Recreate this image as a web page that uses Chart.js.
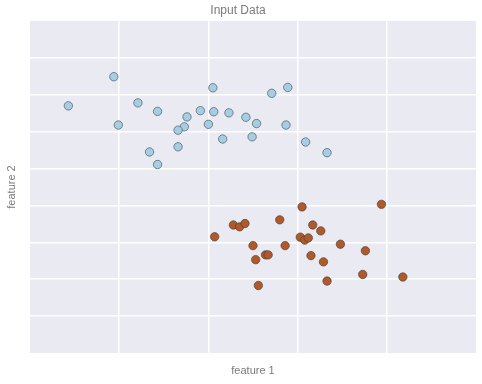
<!DOCTYPE html>
<html>
<head>
<meta charset="utf-8">
<script src="https://cdn.jsdelivr.net/npm/chart.js@4.4.1/dist/chart.umd.min.js"></script>
<style>
html,body{margin:0;padding:0;background:#fff;}
#wrap{width:482px;height:384px;}
</style>
</head>
<body>
<div id="wrap"><canvas id="c" width="482" height="384"></canvas></div>
<script>
const classA_x = [0.94,2.05,0.43,1.21,1.43,1.91,2.06,2.23,1.76,2.42,2.54,0.99,2.00,1.73,1.66,2.16,2.49,1.66,1.34,1.43,2.71,2.89,2.87,3.09,3.33];
const classA_y = [7.49,7.19,6.70,6.78,6.55,6.57,6.54,6.51,6.40,6.39,6.22,6.18,6.20,6.13,6.04,5.80,5.86,5.59,5.45,5.11,7.04,7.20,6.18,5.72,5.43];
const classB_x = [3.94,3.05,2.80,2.28,2.35,2.41,3.17,3.26,2.07,3.03,3.08,3.12,2.50,2.86,3.48,3.76,2.64,2.67,3.15,2.53,3.29,3.73,4.18,3.33,2.56];
const classB_y = [4.03,3.96,3.61,3.47,3.42,3.51,3.47,3.31,3.15,3.14,3.06,3.12,2.91,2.91,2.95,2.77,2.66,2.66,2.64,2.53,2.47,2.13,2.06,1.95,1.83];
const xTicks = [1,2,3,4];
const yTicks = [1,2,3,4,5,6,7,8];
const titleText = "Input Data";
const xLabel = "feature 1";
const yLabel = "feature 2";

const toPts = (xs, ys) => xs.map((x, i) => ({x: x, y: ys[i]}));

const bgPlugin = {
  id: 'bg',
  beforeDraw(chart) {
    const {ctx, chartArea: a} = chart;
    ctx.save();
    ctx.fillStyle = '#EAEAF2';
    ctx.fillRect(a.left, a.top, a.right - a.left, a.bottom - a.top);
    ctx.restore();
  }
};

const textColor = '#7a7a7a';
const font = {family: '"Liberation Sans", Arial, sans-serif', size: 11, weight: 'normal'};
const titleFont = {family: '"Liberation Sans", Arial, sans-serif', size: 12, weight: 'normal', lineHeight: 1.15};

new Chart(document.getElementById('c'), {
  type: 'scatter',
  data: {
    datasets: [
      {data: toPts(classA_x, classA_y), backgroundColor: '#a6cee3', borderColor: 'rgba(70,80,90,0.65)', borderWidth: 1, pointRadius: 4.2, pointHoverRadius: 4.2},
      {data: toPts(classB_x, classB_y), backgroundColor: '#b15928', borderColor: 'rgba(70,60,60,0.65)', borderWidth: 1, pointRadius: 4.2, pointHoverRadius: 4.2}
    ]
  },
  options: {
    responsive: false,
    animation: false,
    layout: {padding: {left: 0, right: 6, top: 0, bottom: 0}},
    plugins: {
      legend: {display: false},
      tooltip: {enabled: false},
      title: {display: true, text: titleText, color: textColor, font: titleFont, padding: {top: 4, bottom: 3.2}}
    },
    scales: {
      x: {
        type: 'linear', min: 0, max: 5,
        afterBuildTicks(s) { s.ticks = xTicks.map(v => ({value: v})); },
        afterFit(s) { s.height = 31; },
        ticks: {display: false},
        grid: {color: '#ffffff', lineWidth: 1.5, drawTicks: false},
        border: {display: false},
        title: {display: true, text: xLabel, color: textColor, font: font, padding: {top: 0, bottom: 6}}
      },
      y: {
        type: 'linear', min: 0, max: 9,
        afterBuildTicks(s) { s.ticks = yTicks.map(v => ({value: v})); },
        afterFit(s) { s.width = 30; },
        ticks: {display: false},
        grid: {color: '#ffffff', lineWidth: 1.5, drawTicks: false},
        border: {display: false},
        title: {display: true, text: yLabel, color: textColor, font: font, padding: {top: 5, bottom: 0}}
      }
    }
  },
  plugins: [bgPlugin]
});
</script>
</body>
</html>
